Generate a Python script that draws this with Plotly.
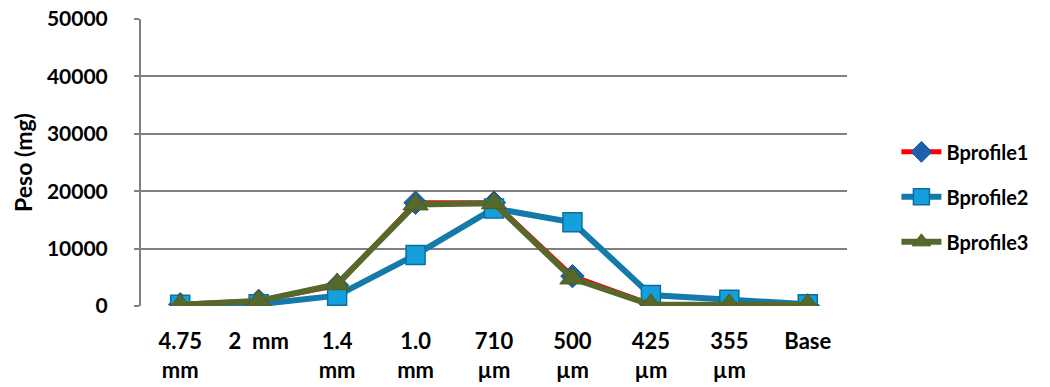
import plotly.graph_objects as go

categories = ["4.75<br>mm", "2  mm", "1.4<br>mm", "1.0<br>mm", "710<br>µm", "500<br>µm", "425<br>µm", "355<br>µm", "Base"]
bprofile1 = [300, 900, 3600, 18000, 18000, 5200, 300, 200, 100]
bprofile2 = [200, 300, 1800, 8900, 17000, 14600, 1900, 1100, 300]
bprofile3 = [200, 900, 3800, 17700, 17900, 4800, 200, 200, 200]
y_ticks = [0, 10000, 20000, 30000, 40000, 50000]

font_family = "Lato, 'Open Sans', sans-serif"

fig = go.Figure()
fig.add_trace(go.Scatter(
    x=categories, y=bprofile1, name="Bprofile1", mode="lines+markers", legendgroup="g1",
    line=dict(color="#FF0000", width=5),
    marker=dict(symbol="diamond", size=18, color="#1F5FB0", line=dict(color="#1A4F95", width=1)),
))
fig.add_trace(go.Scatter(
    x=categories, y=bprofile2, name="Bprofile2", mode="lines+markers", legendgroup="g2",
    line=dict(color="#137AAA", width=6),
    marker=dict(symbol="square", size=19, color="#13A0DC", line=dict(color="#0E6E9C", width=1.5)),
))
fig.add_trace(go.Scatter(
    x=categories, y=bprofile3, name="Bprofile3", mode="lines+markers", legendgroup="g3",
    line=dict(color="#56692C", width=6),
    marker=dict(symbol="triangle-up", size=22, color="#56692C", line=dict(color="#4A5B24", width=1)),
))

fig.update_layout(
    width=1050, height=387,
    margin=dict(l=141, r=203, t=19, b=81),
    plot_bgcolor="white", paper_bgcolor="white",
    font=dict(family=font_family, color="black"),
    showlegend=True,
    legend=dict(
        x=1.07, y=0.605, xanchor="left", yanchor="top",
        font=dict(size=20, family=font_family, weight="bold"),
        tracegroupgap=16, itemwidth=40,
        bgcolor="rgba(0,0,0,0)",
    ),
    xaxis=dict(
        showgrid=False, showline=False, zeroline=False, automargin=False,
        tickfont=dict(size=22, family=font_family, weight="bold"),
        ticks="", range=[-0.5, 8.5], ticklabelstandoff=20,
    ),
    yaxis=dict(
        range=[0, 50000], tickvals=y_ticks, tickformat="d", showgrid=True,
        gridcolor="#7F7F7F", gridwidth=2, automargin=False,
        showline=True, linecolor="#7F7F7F", linewidth=2,
        ticks="outside", ticklen=5, tickcolor="#7F7F7F", tickwidth=2,
        zeroline=False, ticklabelstandoff=22,
        tickfont=dict(size=21, family=font_family, weight="bold"),
        title=dict(text="Peso (mg)", font=dict(size=23, family=font_family, weight="bold"), standoff=8),
    ),
)

fig.write_html("out.html")
